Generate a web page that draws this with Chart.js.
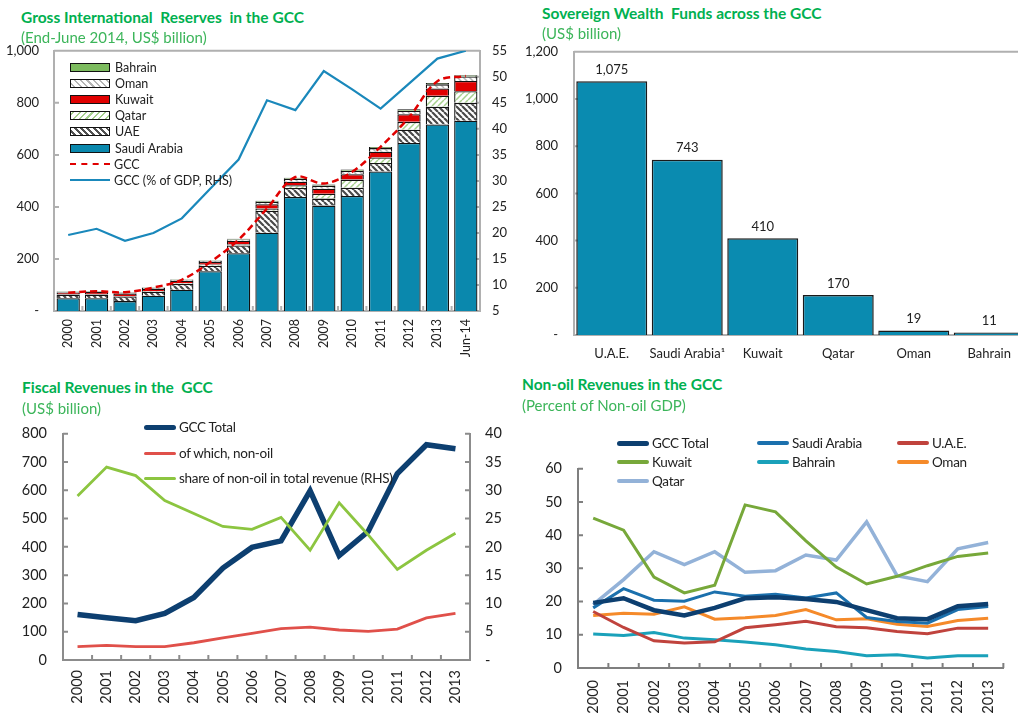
<!DOCTYPE html>
<html>
<head>
<meta charset="utf-8">
<script src="https://cdn.jsdelivr.net/npm/chart.js@4.4.1/dist/chart.umd.min.js"></script>
<style>
  body { margin: 0; width: 1018px; height: 715px; overflow: hidden; background: #fff; position: relative; font-family: Lato, "Open Sans", sans-serif; }
  canvas { position: absolute; }
  .title { position: absolute; color: #00b050; font-weight: bold; font-size: 15.5px; white-space: nowrap; }
  .sub { position: absolute; color: #3cb55a; font-size: 15px; white-space: nowrap; }
  .legend { position: absolute; font-size: 12.5px; color: #222; }
  .legend .row { display: flex; align-items: center; height: 16.2px; white-space: nowrap; }
  .box { width: 38px; height: 7px; border: 1.5px solid #111; margin-right: 5px; }
  .ln { width: 40px; margin-right: 4px; }
  .lg2 { position: absolute; font-size: 13.5px; color: #222; white-space: nowrap; display: flex; align-items: center; letter-spacing: -0.3px; }
  .lg2 span.sw { display: inline-block; width: 32px; border-radius: 3px; margin-right: 3px; }
</style>
</head>
<body>
<canvas id="reserves-chart" width="510" height="337" style="left:0;top:28px"></canvas>
<canvas id="swf-chart" width="530" height="343" style="left:510px;top:28px"></canvas>
<canvas id="fiscal-chart" width="510" height="306" style="left:0;top:409px"></canvas>
<canvas id="nonoil-chart" width="508" height="271" style="left:510px;top:444px"></canvas>

<div class="title" style="left:21px;top:8px">Gross International&nbsp; Reserves&nbsp; in the GCC</div>
<div class="sub" style="left:21px;top:28px">(End-June 2014, US$ billion)</div>
<div class="title" style="left:542px;top:4px">Sovereign Wealth&nbsp; Funds across the GCC</div>
<div class="sub" style="left:542px;top:24px">(US$ billion)</div>
<div class="title" style="left:22px;top:378px">Fiscal Revenues in the&nbsp; GCC</div>
<div class="sub" style="left:22px;top:399px">(US$ billion)</div>
<div class="title" style="left:522px;top:375px">Non-oil Revenues in the GCC</div>
<div class="sub" style="left:522px;top:396px">(Percent of Non-oil GDP)</div>

<div class="legend" style="left:70px;top:59px">
  <div class="row"><div class="box" style="background:#7cbb5e"></div>Bahrain</div>
  <div class="row"><div class="box" style="background:repeating-linear-gradient(45deg,#fff 0 2px,#b5b5b5 2px 3.5px,#fff 3.5px 4.5px)"></div>Oman</div>
  <div class="row"><div class="box" style="background:#e00000"></div>Kuwait</div>
  <div class="row"><div class="box" style="background:repeating-linear-gradient(-45deg,#fff 0 2px,#a6d18e 2px 3.5px,#fff 3.5px 4.5px)"></div>Qatar</div>
  <div class="row"><div class="box" style="background:repeating-linear-gradient(45deg,#fff 0 2px,#505050 2px 4px,#fff 4px 4.5px)"></div>UAE</div>
  <div class="row"><div class="box" style="background:#0a88ad"></div>Saudi Arabia</div>
  <div class="row"><div class="ln" style="border-top:2.5px dashed #e00000"></div>GCC</div>
  <div class="row"><div class="ln" style="border-top:2.5px solid #1a88bb"></div>GCC (% of GDP, RHS)</div>
</div>

<div class="lg2" style="left:144px;top:419px"><span class="sw" style="height:5px;background:#0d3f70"></span>GCC Total</div>
<div class="lg2" style="left:144px;top:445px"><span class="sw" style="height:3px;background:#e0504a"></span>of which, non-oil</div>
<div class="lg2" style="left:144px;top:470px"><span class="sw" style="height:3px;background:#8cc540"></span>share of non-oil in total revenue (RHS)</div>

<div id="nonoil-legend"></div>

<script>
const RESERVE_YEARS = ["2000", "2001", "2002", "2003", "2004", "2005", "2006", "2007", "2008", "2009", "2010", "2011", "2012", "2013", "Jun-14"];
const SAUDI_RESERVES = [49, 49, 38, 59, 82, 153, 222, 301, 438, 405, 442, 536, 646, 717, 731];
const UAE_RESERVES = [14, 14, 18, 15, 22, 21, 30, 84, 35, 27, 32, 33, 51, 68, 69];
const QATAR_RESERVES = [1, 1, 2, 3, 3, 5, 5, 9, 10, 19, 31, 21, 30, 42, 45];
const KUWAIT_RESERVES = [7, 9, 9, 8, 9, 9, 13, 16, 14, 19, 21, 22, 29, 28, 39];
const OMAN_RESERVES = [2.5, 2.4, 3, 3.5, 3.6, 4.4, 5, 9.5, 11, 12, 13, 14, 14, 16, 17];
const BAHRAIN_RESERVES = [1.6, 1.7, 1.7, 1.7, 1.9, 2, 2.7, 4, 4, 4, 5, 4, 5, 5, 5.5];
const GCC_RESERVES = [70, 76, 72, 90, 120, 188, 274, 394, 515, 490, 535, 631, 744, 883, 903];
const GCC_RESERVES_GDP = [19.6, 20.8, 18.5, 20.0, 22.8, 28.5, 34.1, 45.5, 43.6, 51.1, 47.6, 43.9, 48.7, 53.5, 55];

const SWF_COUNTRIES = ["U.A.E.", "Saudi Arabia\u00b9", "Kuwait", "Qatar", "Oman", "Bahrain"];
const SWF_ASSETS = [1075, 743, 410, 170, 19, 11];

const FISCAL_YEARS = ["2000", "2001", "2002", "2003", "2004", "2005", "2006", "2007", "2008", "2009", "2010", "2011", "2012", "2013"];
const GCC_REVENUE = [161, 149, 139, 165, 221, 325, 398, 421, 598, 369, 455, 659, 761, 747];
const NONOIL_REVENUE = [47, 52, 47, 47, 61, 78, 94, 111, 116, 106, 101, 109, 149, 165];
const NONOIL_SHARE = [29.0, 34.1, 32.6, 28.2, 25.9, 23.6, 23.1, 25.2, 19.4, 27.8, 22.1, 16.0, 19.4, 22.4];

const NONOIL_GCC = [19.6, 21.0, 17.4, 15.8, 18.1, 21.0, 21.3, 20.8, 19.9, 17.4, 15.0, 14.7, 18.6, 19.3];
const NONOIL_SAUDI = [18.1, 23.9, 20.4, 20.1, 22.9, 21.6, 22.2, 21.1, 22.6, 15.2, 14.0, 13.5, 17.6, 18.5];
const NONOIL_UAE = [17.0, 12.2, 8.2, 7.5, 7.9, 12.1, 13.0, 14.1, 12.4, 12.1, 11.0, 10.3, 12.0, 12.0];
const NONOIL_KUWAIT = [45.1, 41.5, 27.4, 22.6, 24.9, 49.1, 47.0, 38.3, 30.4, 25.3, 27.6, 30.8, 33.6, 34.6];
const NONOIL_BAHRAIN = [10.2, 9.8, 10.7, 9.0, 8.5, 7.8, 7.0, 5.7, 5.0, 3.7, 4.0, 3.0, 3.7, 3.7];
const NONOIL_OMAN = [15.8, 16.5, 16.2, 18.4, 14.7, 15.1, 15.8, 17.6, 14.5, 14.8, 13.2, 12.5, 14.3, 15.0];
const NONOIL_QATAR = [19.1, 26.6, 35.0, 31.1, 35.0, 28.8, 29.3, 34.0, 32.5, 44.0, 27.8, 26.0, 35.9, 37.8];

const NONOIL_SERIES = [
  { name: "GCC Total", data: NONOIL_GCC, color: "#0d3f70", width: 4.5 },
  { name: "Saudi Arabia", data: NONOIL_SAUDI, color: "#1b70ad", width: 3 },
  { name: "U.A.E.", data: NONOIL_UAE, color: "#c0433d", width: 3 },
  { name: "Kuwait", data: NONOIL_KUWAIT, color: "#77a83a", width: 3 },
  { name: "Bahrain", data: NONOIL_BAHRAIN, color: "#1aa1ba", width: 3 },
  { name: "Oman", data: NONOIL_OMAN, color: "#f58a2a", width: 3 },
  { name: "Qatar", data: NONOIL_QATAR, color: "#93b2d8", width: 3.5 },
];

Chart.defaults.font.family = "Lato, 'Open Sans', sans-serif";
Chart.defaults.color = "#333";
Chart.defaults.animation = false;

// frame lines and little tick marks that point into the plot
const frameAndTicks = {
  id: "frameAndTicks",
  beforeDatasetsDraw(chart, args, opts) {
    const { ctx, chartArea: a } = chart;
    ctx.save();
    ctx.strokeStyle = opts.color;
    ctx.lineWidth = opts.width;
    ctx.beginPath();
    if (opts.top) {
      ctx.moveTo(a.left, a.top);
      ctx.lineTo(a.right, a.top);
    }
    (opts.yScales || []).forEach((id) => {
      const scale = chart.scales[id];
      const right = scale.position === "right";
      const x0 = right ? a.right : a.left;
      const dir = right ? -1 : 1;
      scale.ticks.forEach((tick, i) => {
        const y = scale.getPixelForTick(i);
        ctx.moveTo(x0, y);
        ctx.lineTo(x0 + dir * 5, y);
      });
    });
    if (opts.xTicks) {
      const n = chart.data.labels.length;
      for (let i = 0; i <= n; i++) {
        const x = a.left + (i * (a.right - a.left)) / n;
        ctx.moveTo(x, a.bottom);
        ctx.lineTo(x, a.bottom - 5);
      }
    }
    ctx.stroke();
    ctx.restore();
  },
};

const barValueLabels = {
  id: "barValueLabels",
  afterDatasetsDraw(chart) {
    const { ctx } = chart;
    const meta = chart.getDatasetMeta(0);
    ctx.save();
    ctx.font = "13px Lato, 'Open Sans', sans-serif";
    ctx.fillStyle = "#222";
    ctx.textAlign = "center";
    ctx.textBaseline = "bottom";
    meta.data.forEach((bar, i) => {
      ctx.fillText(SWF_ASSETS[i].toLocaleString("en-US"), bar.x, bar.y - 5);
    });
    ctx.restore();
  },
};

function makeHatch(color, lineWidth, forward, size) {
  const tile = document.createElement("canvas");
  tile.width = size;
  tile.height = size;
  const c = tile.getContext("2d");
  c.fillStyle = "#fff";
  c.fillRect(0, 0, size, size);
  c.strokeStyle = color;
  c.lineWidth = lineWidth;
  c.beginPath();
  for (let k = -1; k <= 1; k++) {
    if (forward) {
      c.moveTo(k * size, 0);
      c.lineTo(k * size + size, size);
    } else {
      c.moveTo(k * size, size);
      c.lineTo(k * size + size, 0);
    }
  }
  c.stroke();
  return c.createPattern(tile, "repeat");
}

function zeroDash(value) {
  return value === 0 ? "-" : value.toLocaleString("en-US");
}

function fixWidth(w) {
  return (scale) => { scale.width = w; };
}

function fixHeight(h) {
  return (scale) => { scale.height = h; };
}

function yearAxis(height, size, padding) {
  return {
    offset: true,
    afterFit: fixHeight(height),
    grid: { display: false, drawTicks: false },
    border: { display: true, color: "#a0a0a0", width: 2 },
    ticks: { autoSkip: false, minRotation: 90, maxRotation: 90, padding, font: { size }, color: "#222" },
  };
}

function buildReservesChart() {
  const stackBar = (label, data, color) => ({
    type: "bar",
    label,
    data,
    backgroundColor: color,
    borderColor: "#111",
    borderWidth: 1.3,
    barPercentage: 0.82,
    categoryPercentage: 1,
    stack: "countries",
    yAxisID: "y",
    order: 2,
  });
  new Chart(document.getElementById("reserves-chart"), {
    data: {
      labels: RESERVE_YEARS,
      datasets: [
        stackBar("Saudi Arabia", SAUDI_RESERVES, "#0a88ad"),
        stackBar("UAE", UAE_RESERVES, makeHatch("#4a4a4a", 2.2, true, 6)),
        stackBar("Qatar", QATAR_RESERVES, makeHatch("#a6d18e", 1.5, false, 6)),
        stackBar("Kuwait", KUWAIT_RESERVES, "#e00000"),
        stackBar("Oman", OMAN_RESERVES, makeHatch("#b5b5b5", 1.5, true, 6)),
        stackBar("Bahrain", BAHRAIN_RESERVES, "#7cbb5e"),
        {
          type: "line",
          label: "GCC",
          data: GCC_RESERVES,
          borderColor: "#e00000",
          borderWidth: 2.5,
          borderDash: [7, 4],
          pointRadius: 0,
          tension: 0.35,
          stack: "gcc",
          yAxisID: "y",
          order: 0,
        },
        {
          type: "line",
          label: "GCC (% of GDP, RHS)",
          data: GCC_RESERVES_GDP,
          borderColor: "#1a88bb",
          borderWidth: 2.2,
          pointRadius: 0,
          tension: 0,
          yAxisID: "y2",
          order: 1,
        },
      ],
    },
    options: {
      responsive: false,
      layout: { padding: { top: 10 } },
      plugins: {
        legend: { display: false },
        tooltip: { enabled: false },
        frameAndTicks: { color: "#b0b0b0", width: 2, top: true, yScales: ["y", "y2"], xTicks: true },
      },
      scales: {
        x: { ...yearAxis(54, 12.5, 8), stacked: true, border: { display: true, color: "#b0b0b0", width: 2 } },
        y: {
          stacked: true,
          min: 0,
          max: 1000,
          afterFit: fixWidth(54),
          grid: { display: false, drawTicks: false },
          border: { display: true, color: "#b0b0b0", width: 2 },
          ticks: { stepSize: 200, padding: 15, font: { size: 13 }, color: "#222", callback: zeroDash },
        },
        y2: {
          position: "right",
          min: 5,
          max: 55,
          afterFit: fixWidth(30),
          grid: { display: false, drawTicks: false },
          border: { display: true, color: "#b0b0b0", width: 2 },
          ticks: { stepSize: 5, padding: 12, font: { size: 13 }, color: "#222" },
        },
      },
    },
    plugins: [frameAndTicks],
  });
}

function buildSwfChart() {
  new Chart(document.getElementById("swf-chart"), {
    type: "bar",
    data: {
      labels: SWF_COUNTRIES,
      datasets: [
        {
          label: "US$ billion",
          data: SWF_ASSETS,
          backgroundColor: "#0a8bb0",
          borderColor: "#1a1a1a",
          borderWidth: 1.5,
          barPercentage: 0.94,
          categoryPercentage: 1,
        },
      ],
    },
    options: {
      responsive: false,
      layout: { padding: { top: 10, right: 13 } },
      plugins: {
        legend: { display: false },
        tooltip: { enabled: false },
        frameAndTicks: { color: "#b0b0b0", width: 2, top: true, yScales: ["y"] },
      },
      scales: {
        x: {
          afterFit: fixHeight(36),
          grid: { display: false, drawTicks: false },
          border: { display: true, color: "#b0b0b0", width: 2 },
          ticks: { autoSkip: false, padding: 11, font: { size: 13 }, color: "#222", maxRotation: 0 },
        },
        y: {
          min: 0,
          max: 1200,
          afterFit: fixWidth(64),
          grid: { display: false, drawTicks: false },
          border: { display: true, color: "#b0b0b0", width: 2 },
          ticks: { stepSize: 200, padding: 16, font: { size: 13 }, color: "#222", callback: zeroDash },
        },
      },
    },
    plugins: [frameAndTicks, barValueLabels],
  });
}

function buildFiscalChart() {
  new Chart(document.getElementById("fiscal-chart"), {
    type: "line",
    data: {
      labels: FISCAL_YEARS,
      datasets: [
        { label: "share of non-oil in total revenue (RHS)", data: NONOIL_SHARE, borderColor: "#8cc540", borderWidth: 2.8, pointRadius: 0, yAxisID: "y2" },
        { label: "of which, non-oil", data: NONOIL_REVENUE, borderColor: "#e0504a", borderWidth: 2.8, pointRadius: 0, yAxisID: "y" },
        { label: "GCC Total", data: GCC_REVENUE, borderColor: "#0d3f70", borderWidth: 5.5, pointRadius: 0, yAxisID: "y" },
      ],
    },
    options: {
      responsive: false,
      layout: { padding: { top: 10 } },
      plugins: {
        legend: { display: false },
        tooltip: { enabled: false },
        frameAndTicks: { color: "#8c8c8c", width: 2, yScales: ["y", "y2"], xTicks: true },
      },
      scales: {
        x: { ...yearAxis(55, 14.5, 10), border: { display: true, color: "#8c8c8c", width: 2 } },
        y: {
          min: 0,
          max: 800,
          afterFit: fixWidth(63),
          grid: { display: false, drawTicks: false },
          border: { display: true, color: "#8c8c8c", width: 2 },
          ticks: { stepSize: 100, padding: 16, font: { size: 14.5 }, color: "#222" },
        },
        y2: {
          position: "right",
          min: 0,
          max: 40,
          afterFit: fixWidth(40),
          grid: { display: false, drawTicks: false },
          border: { display: true, color: "#8c8c8c", width: 2 },
          ticks: { stepSize: 5, padding: 15, font: { size: 14.5 }, color: "#222", callback: zeroDash },
        },
      },
    },
    plugins: [frameAndTicks],
  });
}

function buildNonoilChart() {
  new Chart(document.getElementById("nonoil-chart"), {
    type: "line",
    data: {
      labels: FISCAL_YEARS,
      datasets: NONOIL_SERIES.map((s, i) => ({
        label: s.name,
        data: s.data,
        borderColor: s.color,
        borderWidth: s.width,
        pointRadius: 0,
        order: i === 0 ? 0 : i + 1,
      })),
    },
    options: {
      responsive: false,
      layout: { padding: { top: 10, right: 12 } },
      plugins: {
        legend: { display: false },
        tooltip: { enabled: false },
        frameAndTicks: { color: "#7f7f7f", width: 2, yScales: ["y"], xTicks: true },
      },
      scales: {
        x: { ...yearAxis(47, 14.5, 12), border: { display: true, color: "#7f7f7f", width: 2 } },
        y: {
          min: 0,
          max: 60,
          afterFit: fixWidth(68),
          grid: { display: false, drawTicks: false },
          border: { display: true, color: "#7f7f7f", width: 2 },
          ticks: { stepSize: 10, padding: 16, font: { size: 14.5 }, color: "#222" },
        },
      },
    },
    plugins: [frameAndTicks],
  });
}

function renderNonoilLegend() {
  const columns = [617, 757, 897];
  const rows = [435, 454, 473];
  document.getElementById("nonoil-legend").innerHTML = NONOIL_SERIES.map((s, i) => `
    <div class="lg2" style="left:${columns[i % 3]}px;top:${rows[Math.floor(i / 3)]}px">
      <span class="sw" style="height:${i === 0 ? 5 : 4}px;background:${s.color}"></span>${s.name}
    </div>`).join("");
}

buildReservesChart();
buildSwfChart();
buildFiscalChart();
buildNonoilChart();
renderNonoilLegend();
</script>
</body>
</html>
